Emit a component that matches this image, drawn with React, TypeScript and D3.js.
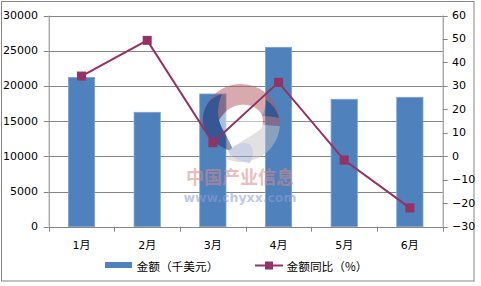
import React from "react";
import * as d3 from "d3";

const months = ["1月", "2月", "3月", "4月", "5月", "6月"];
const amounts = [21200, 16250, 18850, 25480, 18100, 18380];
const yoy = [34.2, 49.4, 5.8, 31.5, -1.6, -22.0];
const leftTicks = [0, 5000, 10000, 15000, 20000, 25000, 30000];
const rightTicks = [-30, -20, -10, 0, 10, 20, 30, 40, 50, 60];
const seriesNames = ["金额（千美元）", "金额同比（%）"];

const W = 481;
const H = 286;
const plot = { left: 48.7, right: 442.7, top: 15.5, bottom: 226.7 };
const barColor = "#4F81BD";
const lineColor = "#953163";
const axisColor = "#868686";
const numFont = "'DejaVu Sans', 'Noto Sans CJK SC', sans-serif";
const cjkFont = "'Noto Sans CJK SC', 'DejaVu Sans', sans-serif";

function ringPath(cx: number, cy: number, r0: number, r1: number, a0: number, a1: number) {
  const arc = d3.arc()({
    innerRadius: r0,
    outerRadius: r1,
    startAngle: a0,
    endAngle: a1,
  } as any);
  return { d: arc || "", transform: `translate(${cx},${cy})` };
}

export default function App() {
  const x = d3
    .scaleBand<string>()
    .domain(months)
    .range([plot.left, plot.right])
    .paddingInner(0.6)
    .paddingOuter(0.3);
  const yL = d3.scaleLinear().domain([0, 30000]).range([plot.bottom, plot.top]);
  const yR = d3.scaleLinear().domain([-30, 60]).range([plot.bottom, plot.top]);
  const step = x.step();
  const bandStart = plot.left;
  const cx = (m: string) => (x(m) as number) + x.bandwidth() / 2;

  const line = d3
    .line<number>()
    .x((_, i) => cx(months[i]))
    .y((d) => yR(d));

  const ms = 9;
  const redRing = ringPath(241, 123, 0, 39, -1.75, 1.65);
  const greyRing = ringPath(241, 123, 0, 39, 1.65, 3.5);

  return (
    <svg
      width={W}
      height={H}
      style={{ position: "absolute", left: 0, top: 0, display: "block" }}
    >
      <rect x={0} y={0} width={W} height={H} fill="#fff" />
      <rect x={1.5} y={1.5} width={472.5} height={279.5} fill="#fff" stroke={axisColor} strokeWidth={1} />

      {/* gridlines */}
      {leftTicks.map((t) => (
        <line
          key={"g" + t}
          x1={plot.left}
          x2={plot.right}
          y1={Math.round(yL(t)) + 0.5}
          y2={Math.round(yL(t)) + 0.5}
          stroke={axisColor}
          strokeWidth={1}
        />
      ))}

      {/* bars */}
      {amounts.map((v, i) => (
        <rect
          key={"b" + i}
          x={x(months[i])}
          y={yL(v)}
          width={x.bandwidth()}
          height={yL(0) - yL(v)}
          fill={barColor}
          stroke="#7EA3D2"
          strokeWidth={0.8}
        />
      ))}

      {/* watermark */}
      <g opacity={0.5}>
        <path d={greyRing.d} transform={greyRing.transform} fill="#c4c4c4" />
        <path d={redRing.d} transform={redRing.transform} fill="#b5585d" />
        <path
          d="M218,122 Q230,100 252,106 Q266,112 262,128 Q255,134 244,140 Q234,146 228,152 Q222,138 218,122 Z"
          fill="#ffffff"
        />
        <path
          d="M203,116 Q206,98 222,94 Q214,112 222,128 Q230,142 234,152 Q214,146 206,132 Q202,124 203,116 Z"
          fill="#1f2f6a"
        />
        <path
          d="M228,152 Q238,140 250,144 Q256,152 250,163 Q236,162 228,152 Z"
          fill="#9aa4cf"
        />
        <path
          d="M266,100 Q276,106 279,118 Q272,116 262,116 Q266,108 266,100 Z"
          fill="#1f2f6a"
        />
      </g>
      <g opacity={0.55}>
        <text
          x={240}
          y={176}
          textAnchor="middle"
          dominantBaseline="central"
          fontFamily={cjkFont}
          fontSize={18}
          fontWeight="bold"
          fill="#d98a8a"
        >
          中国产业信息
        </text>
        <text
          x={240}
          y={197}
          textAnchor="middle"
          dominantBaseline="central"
          fontFamily="'DejaVu Sans', sans-serif"
          fontSize={12.5}
          fontWeight="bold"
          fill="#8d9bd6"
        >
          www.chyxx.com
        </text>
      </g>

      {/* line */}
      <path d={line(yoy) || ""} fill="none" stroke={lineColor} strokeWidth={2} />
      {yoy.map((v, i) => (
        <rect
          key={"m" + i}
          x={cx(months[i]) - ms / 2}
          y={yR(v) - ms / 2}
          width={ms}
          height={ms}
          fill={lineColor}
        />
      ))}

      {/* axes */}
      <line x1={plot.left + 0.5} x2={plot.left + 0.5} y1={plot.top} y2={plot.bottom} stroke={axisColor} />
      <line x1={plot.right + 0.5} x2={plot.right + 0.5} y1={plot.top} y2={plot.bottom} stroke={axisColor} />
      <line x1={plot.left} x2={plot.right} y1={Math.round(plot.bottom) + 0.5} y2={Math.round(plot.bottom) + 0.5} stroke={axisColor} />

      {leftTicks.map((t) => (
        <g key={"lt" + t}>
          <line
            x1={plot.left - 5}
            x2={plot.left}
            y1={Math.round(yL(t)) + 0.5}
            y2={Math.round(yL(t)) + 0.5}
            stroke={axisColor}
          />
          <text
            x={38}
            y={yL(t)}
            textAnchor="end"
            dominantBaseline="central"
            fontFamily={numFont}
            fontSize={11}
            fill="#000"
          >
            {t}
          </text>
        </g>
      ))}

      {rightTicks.map((t) => (
        <g key={"rt" + t}>
          <line
            x1={plot.right}
            x2={plot.right + 5}
            y1={Math.round(yR(t)) + 0.5}
            y2={Math.round(yR(t)) + 0.5}
            stroke={axisColor}
          />
          <text
            x={452}
            y={yR(t)}
            textAnchor="start"
            dominantBaseline="central"
            fontFamily={numFont}
            fontSize={11}
            fill="#000"
          >
            {t < 0 ? "−" + Math.abs(t) : String(t)}
          </text>
        </g>
      ))}

      {d3.range(months.length + 1).map((i) => (
        <line
          key={"xt" + i}
          x1={Math.round(bandStart + i * step) + 0.5}
          x2={Math.round(bandStart + i * step) + 0.5}
          y1={plot.bottom}
          y2={plot.bottom + 5}
          stroke={axisColor}
        />
      ))}
      {months.map((m) => (
        <text
          key={"xl" + m}
          x={cx(m)}
          y={245}
          textAnchor="middle"
          dominantBaseline="central"
          fontFamily={numFont}
          fontSize={11}
          fill="#000"
        >
          {m}
        </text>
      ))}

      {/* legend */}
      <rect x={105} y={262} width={27} height={6} fill={barColor} />
      <text
        x={136.5}
        y={265.5}
        dominantBaseline="central"
        fontFamily={cjkFont}
        fontSize={11.7}
        fill="#000"
      >
        {seriesNames[0]}
      </text>
      <line x1={255} x2={283} y1={265.5} y2={265.5} stroke={lineColor} strokeWidth={2} />
      <rect x={265} y={261.5} width={8} height={8} fill={lineColor} />
      <text
        x={286.5}
        y={265.5}
        dominantBaseline="central"
        fontFamily={cjkFont}
        fontSize={11.7}
        fill="#000"
      >
        {seriesNames[1]}
      </text>
    </svg>
  );
}
